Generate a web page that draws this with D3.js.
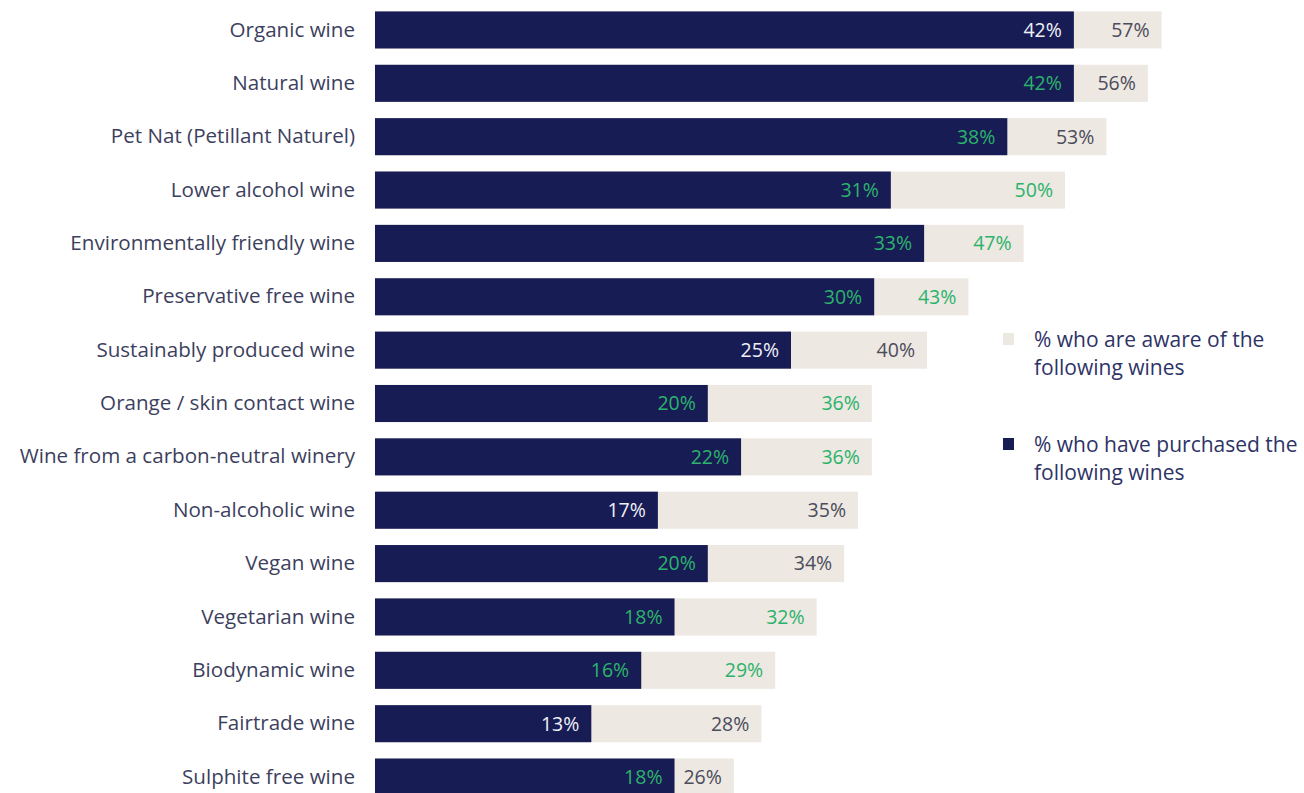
<!DOCTYPE html>
<html>
<head>
<meta charset="utf-8">
<script src="https://cdn.jsdelivr.net/npm/d3@7"></script>
<style>
  html, body { margin: 0; padding: 0; background: #ffffff; }
  svg { display: block; font-family: "Open Sans", "Noto Sans", sans-serif; }
</style>
</head>
<body>
<svg id="chart" width="1304" height="793"></svg>
<script>
// Wine types, top to bottom
const categories = [
  "Organic wine",
  "Natural wine",
  "Pet Nat (Petillant Naturel)",
  "Lower alcohol wine",
  "Environmentally friendly wine",
  "Preservative free wine",
  "Sustainably produced wine",
  "Orange / skin contact wine",
  "Wine from a carbon-neutral winery",
  "Non-alcoholic wine",
  "Vegan wine",
  "Vegetarian wine",
  "Biodynamic wine",
  "Fairtrade wine",
  "Sulphite free wine"
];

// % who are aware of each wine (primary axis)
const aware = [57, 56, 53, 50, 47, 43, 40, 36, 36, 35, 34, 32, 29, 28, 26];
// % who have purchased each wine (secondary axis)
const purchased = [42, 42, 38, 31, 33, 30, 25, 20, 22, 17, 20, 18, 16, 13, 18];

// Values flagged as highlighted (drawn in green)
const awareHighlight = [false, false, false, true, true, true, false, true, true, false, false, true, true, false, false];
const purchasedHighlight = [false, true, true, true, true, true, false, true, true, false, true, true, true, false, true];

// Axis maxima for the two overlapping series
const awareAxisMax = 60;
const purchasedAxisMax = 50;

const legendLabels = [
  ["% who are aware of the", "following wines"],
  ["% who have purchased the", "following wines"]
];

const colors = {
  aware: "#ede8e1",
  purchased: "#181c55",
  green: "#2bb36b",
  onNavy: "#eef0f6",
  onBeige: "#4b4c5c",
  category: "#3d3f5e",
  legend: "#2e3366"
};

const svg = d3.select("#chart");

const plotLeft = 375, plotWidth = 828;
const xAware = d3.scaleLinear().domain([0, awareAxisMax]).range([plotLeft, plotLeft + plotWidth]);
const xPurch = d3.scaleLinear().domain([0, purchasedAxisMax]).range([plotLeft, plotLeft + plotWidth + 4]);

const y = d3.scaleBand()
  .domain(categories)
  .range([3.3, 3.3 + 53.36 * categories.length])
  .paddingInner(0.305)
  .paddingOuter(0.152);

const rows = categories.map((c, i) => ({
  cat: c, aware: aware[i], purchased: purchased[i],
  aHi: awareHighlight[i], pHi: purchasedHighlight[i]
}));

// Category axis on the left, no line or ticks
const yAxis = d3.axisLeft(y).tickSize(0).tickPadding(20);
const gy = svg.append("g").attr("transform", `translate(${plotLeft},0)`).call(yAxis);
gy.select(".domain").remove();
gy.selectAll("text")
  .attr("font-size", 20.6)
  .attr("fill", colors.category)
  .attr("font-family", "'Open Sans', sans-serif");

const g = svg.append("g");

// Awareness bars (behind)
g.selectAll("rect.aware").data(rows).join("rect")
  .attr("class", "aware")
  .attr("x", xAware(0))
  .attr("y", d => y(d.cat))
  .attr("width", d => xAware(d.aware) - xAware(0))
  .attr("height", y.bandwidth())
  .attr("fill", colors.aware);

// Purchase bars (front)
g.selectAll("rect.purch").data(rows).join("rect")
  .attr("class", "purch")
  .attr("x", xPurch(0))
  .attr("y", d => y(d.cat))
  .attr("width", d => xPurch(d.purchased) - xPurch(0))
  .attr("height", y.bandwidth())
  .attr("fill", colors.purchased);

// Value labels, right-aligned inside each bar's end
g.selectAll("text.alab").data(rows).join("text")
  .attr("class", "alab")
  .attr("x", d => xAware(d.aware) - 12)
  .attr("y", d => y(d.cat) + y.bandwidth() / 2)
  .attr("dy", "0.35em")
  .attr("text-anchor", "end")
  .attr("font-size", 19.5)
  .attr("fill", d => d.aHi ? colors.green : colors.onBeige)
  .text(d => d.aware + "%");

g.selectAll("text.plab").data(rows).join("text")
  .attr("class", "plab")
  .attr("x", d => xPurch(d.purchased) - 12)
  .attr("y", d => y(d.cat) + y.bandwidth() / 2)
  .attr("dy", "0.35em")
  .attr("text-anchor", "end")
  .attr("font-size", 19.5)
  .attr("fill", d => d.pHi ? colors.green : colors.onNavy)
  .text(d => d.purchased + "%");

// Legend
const legend = svg.append("g").attr("transform", "translate(1003,330)");
const legendColors = [colors.aware, colors.purchased];
legendLabels.forEach((lines, i) => {
  const item = legend.append("g").attr("transform", `translate(0,${i * 105})`);
  item.append("rect")
    .attr("x", 0).attr("y", 3).attr("width", 11).attr("height", 12)
    .attr("fill", legendColors[i]);
  const t = item.append("text")
    .attr("x", 31).attr("y", 17)
    .attr("font-size", 21)
    .attr("fill", colors.legend);
  lines.forEach((line, j) => {
    t.append("tspan").attr("x", 31).attr("dy", j === 0 ? 0 : 28).text(line);
  });
});
</script>
</body>
</html>
